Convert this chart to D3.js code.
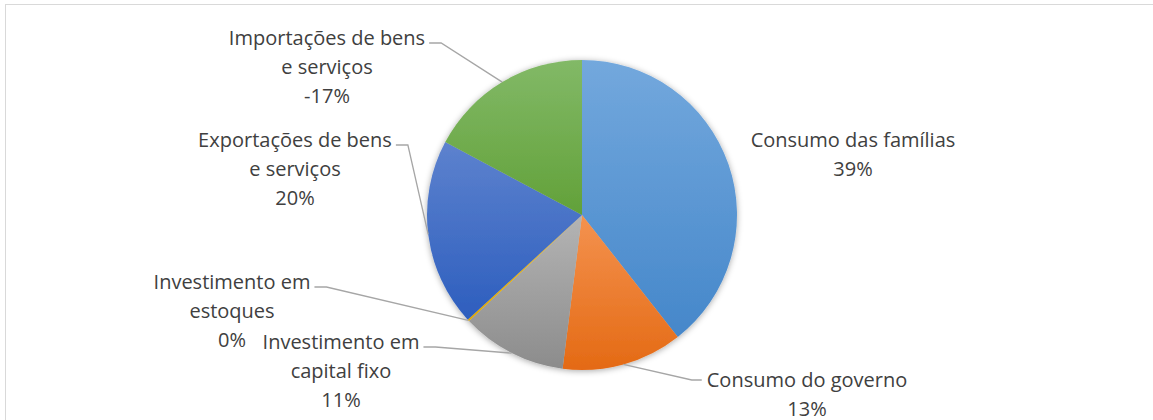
<html>
<head>
  <title>Composição do PIB</title>
  <script src="https://d3js.org/d3.v7.min.js"></script>
  <style>
    body { margin: 0; background: #fff; }
  </style>
</head>
<body>
<svg width="1153" height="420"></svg>
<script>
// dados do grafico
var categorias = ["Consumo das famílias", "Consumo do governo", "Investimento em capital fixo",
                  "Investimento em estoques", "Exportações de bens e serviços", "Importações de bens e serviços"];
var valores = [39.4, 12.6, 11.0, 0.2, 19.6, -17.2];
// quebras de linha dos rotulos (como no Excel)
var linhasRotulo = [
  ["Consumo das famílias"],
  ["Consumo do governo"],
  ["Investimento em", "capital fixo"],
  ["Investimento em", "estoques"],
  ["Exportações de bens", "e serviços"],
  ["Importações de bens", "e serviços"]
];

var corTopo = ["#73a8dd", "#f4924f", "#b4b4b4", "#ffc000", "#5d82ce", "#82b967"];
var corBase = ["#4587ca", "#e46a14", "#8c8c8c", "#e0a800", "#2d5ebe", "#62a139"];

// posicao dos rotulos: centro x e meio da primeira linha
var posRotulo = [
  {x: 853, y: 140, lado: "dir"},
  {x: 807, y: 380, lado: "esq"},
  {x: 341, y: 342, lado: "dir"},
  {x: 232, y: 282, lado: "dir"},
  {x: 295, y: 140, lado: "dir"},
  {x: 327, y: 38, lado: "dir"}
];

var svg = d3.select("svg");
var cx = 582, cy = 215, raio = 155;
var fonte = 20, entreLinhas = 29;

// borda da area do grafico
svg.append("rect")
  .attr("x", 5.5).attr("y", 4.5)
  .attr("width", 1300).attr("height", 600)
  .attr("fill", "none")
  .attr("stroke", "#d9d9d9")
  .attr("stroke-width", 1);

var defs = svg.append("defs");
var sombra = defs.append("filter").attr("id", "sombra")
  .attr("x", "-20%").attr("y", "-20%").attr("width", "140%").attr("height", "140%");
sombra.append("feDropShadow")
  .attr("dx", 0).attr("dy", 1)
  .attr("stdDeviation", 3)
  .attr("flood-color", "#000")
  .attr("flood-opacity", 0.35);

categorias.forEach(function(c, i) {
  var g = defs.append("linearGradient")
    .attr("id", "grad" + i)
    .attr("x1", 0).attr("y1", 0).attr("x2", 0).attr("y2", 1);
  g.append("stop").attr("offset", "0%").attr("stop-color", corTopo[i]);
  g.append("stop").attr("offset", "100%").attr("stop-color", corBase[i]);
});

var dados = categorias.map(function(c, i) {
  return {nome: c, valor: valores[i], i: i};
});

var pie = d3.pie()
  .sort(null)
  .value(function(d) { return Math.abs(d.valor); });

var arc = d3.arc().innerRadius(0).outerRadius(raio);
var arcBorda = d3.arc().innerRadius(raio).outerRadius(raio);

var fatias = pie(dados);

var gPie = svg.append("g")
  .attr("transform", "translate(" + cx + "," + cy + ")");

gPie.append("g")
  .attr("filter", "url(#sombra)")
  .selectAll("path")
  .data(fatias)
  .enter().append("path")
  .attr("d", arc)
  .attr("fill", function(d) { return "url(#grad" + d.data.i + ")"; });

// rotulos
var gRot = svg.append("g");
var formato = function(v) { return Math.round(v) + "%"; };

fatias.forEach(function(f) {
  var i = f.data.i;
  var p = posRotulo[i];
  var linhas = linhasRotulo[i].concat([formato(f.data.valor)]);
  var t = gRot.append("text")
    .attr("text-anchor", "middle")
    .attr("font-family", "'Open Sans', sans-serif")
    .attr("font-size", fonte)
    .attr("fill", "#404040");
  linhas.forEach(function(l, k) {
    t.append("tspan")
      .attr("x", p.x)
      .attr("y", p.y + 7 + k * entreLinhas)
      .text(l);
  });

  if (i === 0) return; // sem linha de chamada

  // largura da primeira linha
  var w = t.select("tspan").node().getComputedTextLength();
  var pontoPie = arcBorda.centroid(f);
  var x0 = cx + pontoPie[0], y0 = cy + pontoPie[1];
  var ly = p.y + (p.lado === "esq" ? 0 : 5);
  var lx, cotovelo;
  if (p.lado === "dir") {
    lx = p.x + w / 2 + 4;
    cotovelo = lx + 12;
  } else {
    lx = p.x - w / 2 - 5;
    cotovelo = lx - 10;
  }
  gRot.append("path")
    .attr("d", d3.line()([[x0, y0], [cotovelo, ly], [lx, ly]]))
    .attr("fill", "none")
    .attr("stroke", "#a6a6a6")
    .attr("stroke-width", 1.3);
});
</script>
</body>
</html>
